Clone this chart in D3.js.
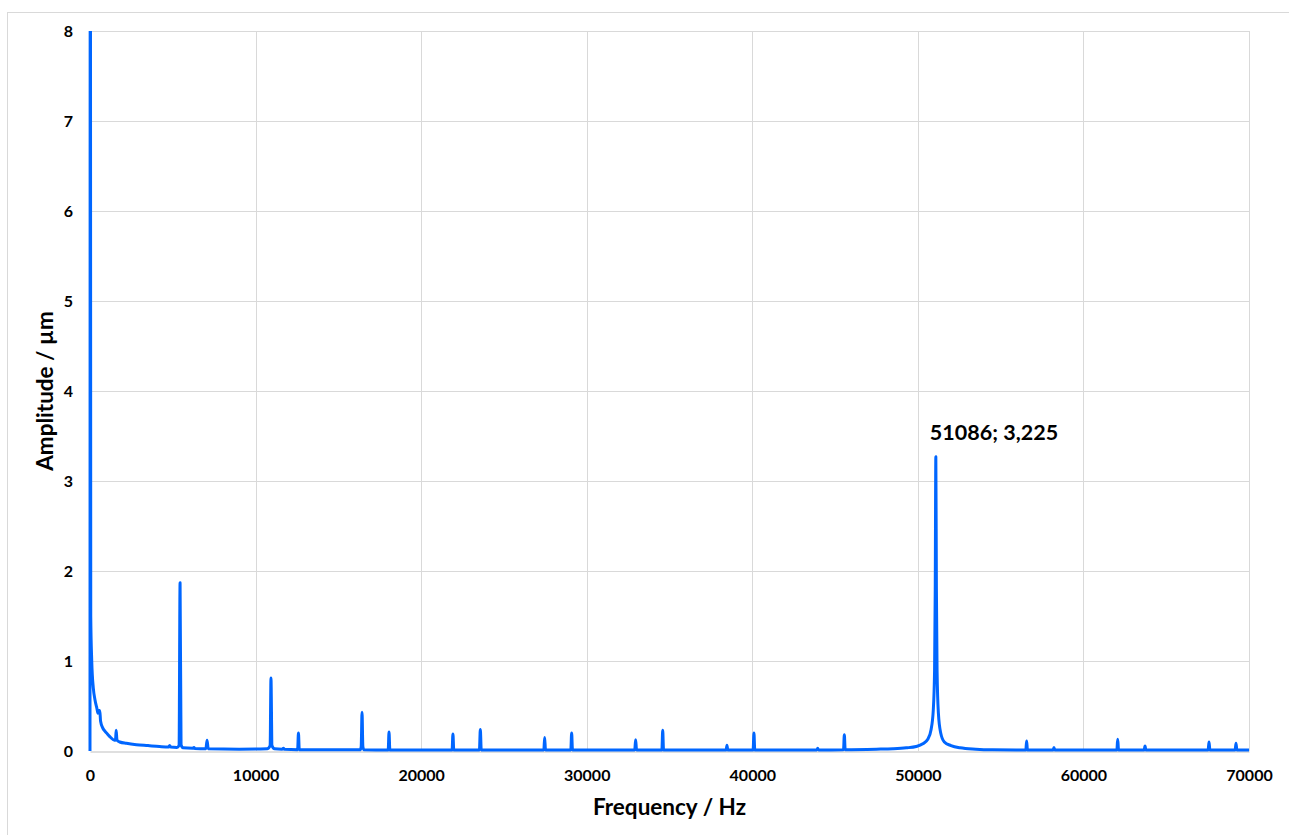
<!DOCTYPE html>
<html>
<head>
<meta charset="utf-8">
<script src="https://cdn.jsdelivr.net/npm/d3@7"></script>
<style>
  body { margin: 0; background: #fff; }
  text { font-family: Lato, "Open Sans", sans-serif; font-weight: bold; fill: #000; }
</style>
</head>
<body>
<svg id="chart" width="1289" height="835"></svg>
<script>
// spectrum: [frequency in Hz, amplitude in µm]
const spectrum = [
  [0, 0], [20, 12], [45, 1.5], [105, 1.0], [200, 0.7], [300, 0.57], [420, 0.47],
  [480, 0.42], [530, 0.45], [590, 0.45], [640, 0.33], [760, 0.26], [900, 0.22],
  [1050, 0.19], [1250, 0.15], [1480, 0.12], [1540, 0.12], [1580, 0.23], [1630, 0.12],
  [1800, 0.1], [2200, 0.085], [2800, 0.07], [3500, 0.06], [4200, 0.05], [4750, 0.045],
  [4810, 0.06], [4870, 0.045], [5250, 0.04], [5380, 0.06], [5440, 1.87], [5500, 0.07],
  [5620, 0.035], [6200, 0.03], [6280, 0.04], [6340, 0.028], [7000, 0.025], [7070, 0.12],
  [7140, 0.025], [9000, 0.02], [10700, 0.025], [10880, 0.06], [10930, 0.81], [10990, 0.06],
  [11150, 0.025], [11600, 0.02], [11680, 0.03], [11740, 0.02], [12540, 0.015], [12590, 0.2],
  [12640, 0.015], [16330, 0.015], [16380, 0.05], [16430, 0.43], [16480, 0.05], [16540, 0.015],
  [18010, 0.012], [18060, 0.21], [18110, 0.012], [21870, 0.012], [21920, 0.19], [21970, 0.012],
  [23520, 0.012], [23575, 0.24], [23630, 0.012], [27410, 0.012], [27460, 0.15], [27510, 0.012],
  [29040, 0.012], [29090, 0.2], [29140, 0.012], [32900, 0.012], [32955, 0.125], [33010, 0.012],
  [34540, 0.012], [34590, 0.23], [34640, 0.012], [38420, 0.01], [38470, 0.065], [38520, 0.01],
  [40050, 0.01], [40100, 0.2], [40150, 0.01], [43900, 0.012], [43950, 0.03], [44000, 0.012],
  [45510, 0.015], [45560, 0.18], [45610, 0.015], [47500, 0.02], [48500, 0.025], [49300, 0.035],
  [49900, 0.05], [50300, 0.08], [50600, 0.13], [50800, 0.24], [50930, 0.45], [51010, 0.9],
  [51050, 1.8], [51086, 3.27], [51120, 1.8], [51160, 0.9], [51240, 0.42], [51380, 0.2],
  [51600, 0.1], [52000, 0.06], [52550, 0.035], [53500, 0.02], [54500, 0.013], [56520, 0.01],
  [56570, 0.11], [56620, 0.01], [58170, 0.01], [58220, 0.04], [58270, 0.01], [62020, 0.01],
  [62070, 0.13], [62120, 0.01], [63670, 0.01], [63720, 0.055], [63770, 0.01], [67530, 0.01],
  [67585, 0.1], [67640, 0.01], [69160, 0.01], [69215, 0.085], [69270, 0.01], [70000, 0.01]
];

const xTicks = [0, 10000, 20000, 30000, 40000, 50000, 60000, 70000];
const yTicks = [0, 1, 2, 3, 4, 5, 6, 7, 8];

const peakLabel = { freq: 51086, amp: 3.27, text: '51086; 3,225' };
const xTitle = 'Frequency / Hz';
const yTitle = 'Amplitude / µm';

const svg = d3.select('#chart');
const MARGIN = { top: 31, left: 90, right: 40, bottom: 84 };
const plotWidth = 1289 - MARGIN.left - MARGIN.right;
const plotHeight = 835 - MARGIN.top - MARGIN.bottom;

// outer chart border
svg.append('rect')
  .attr('x', 7.5).attr('y', 12.5)
  .attr('width', 1300).attr('height', 840)
  .attr('fill', '#fff')
  .attr('stroke', '#d9d9d9');

const chart = svg.append('g')
  .attr('transform', `translate(${MARGIN.left},${MARGIN.top})`);

const x = d3.scaleLinear().domain([0, 70000]).range([0, plotWidth]);
const y = d3.scaleLinear().domain([0, 8]).range([plotHeight, 0]);

// gridlines
chart.append('g')
  .selectAll('line.h')
  .data(yTicks.filter(d => d > 0))
  .join('line')
  .attr('x1', 0).attr('x2', plotWidth)
  .attr('y1', d => y(d) + 0.5).attr('y2', d => y(d) + 0.5)
  .attr('stroke', '#d9d9d9');

chart.append('g')
  .selectAll('line.v')
  .data(xTicks.filter(d => d > 0))
  .join('line')
  .attr('x1', d => Math.round(x(d)) + 0.5).attr('x2', d => Math.round(x(d)) + 0.5)
  .attr('y1', 0).attr('y2', plotHeight)
  .attr('stroke', '#d9d9d9');

// axes
const xAxis = chart.append('g')
  .attr('transform', `translate(0,${plotHeight + 0.5})`)
  .call(d3.axisBottom(x).tickValues(xTicks).tickSize(0).tickPadding(18).tickFormat(d3.format('d')));
xAxis.select('.domain').attr('stroke', '#bfbfbf');
xAxis.selectAll('text').style('font-size', '16px');

const yAxis = chart.append('g')
  .call(d3.axisLeft(y).tickValues(yTicks).tickSize(0).tickPadding(17));
yAxis.select('.domain').remove();
yAxis.selectAll('text').style('font-size', '16px');

// spectrum line
svg.append('clipPath').attr('id', 'plot-clip')
  .append('rect')
  .attr('x', -5).attr('y', 0)
  .attr('width', plotWidth + 10).attr('height', plotHeight + 5);

const spectrumLine = d3.line()
  .curve(d3.curveMonotoneX)
  .x(d => x(d[0]))
  .y(d => y(d[1]));

chart.append('path')
  .datum(spectrum)
  .attr('clip-path', 'url(#plot-clip)')
  .attr('fill', 'none')
  .attr('stroke', '#0066ff')
  .attr('stroke-width', 3)
  .attr('stroke-linejoin', 'round')
  .attr('d', spectrumLine);

// peak label
chart.append('text')
  .attr('x', x(peakLabel.freq) - 6)
  .attr('y', y(peakLabel.amp) - 24)
  .attr('dy', '0.35em')
  .style('font-size', '21.5px')
  .text(peakLabel.text);

// axis titles
chart.append('text')
  .attr('x', plotWidth / 2)
  .attr('y', plotHeight + 56)
  .attr('dy', '0.35em')
  .attr('text-anchor', 'middle')
  .style('font-size', '22.5px')
  .text(xTitle);

chart.append('text')
  .attr('transform', `translate(${45 - MARGIN.left},${plotHeight / 2}) rotate(-90)`)
  .attr('dy', '0.35em')
  .attr('text-anchor', 'middle')
  .style('font-size', '22.5px')
  .text(yTitle);
</script>
</body>
</html>
